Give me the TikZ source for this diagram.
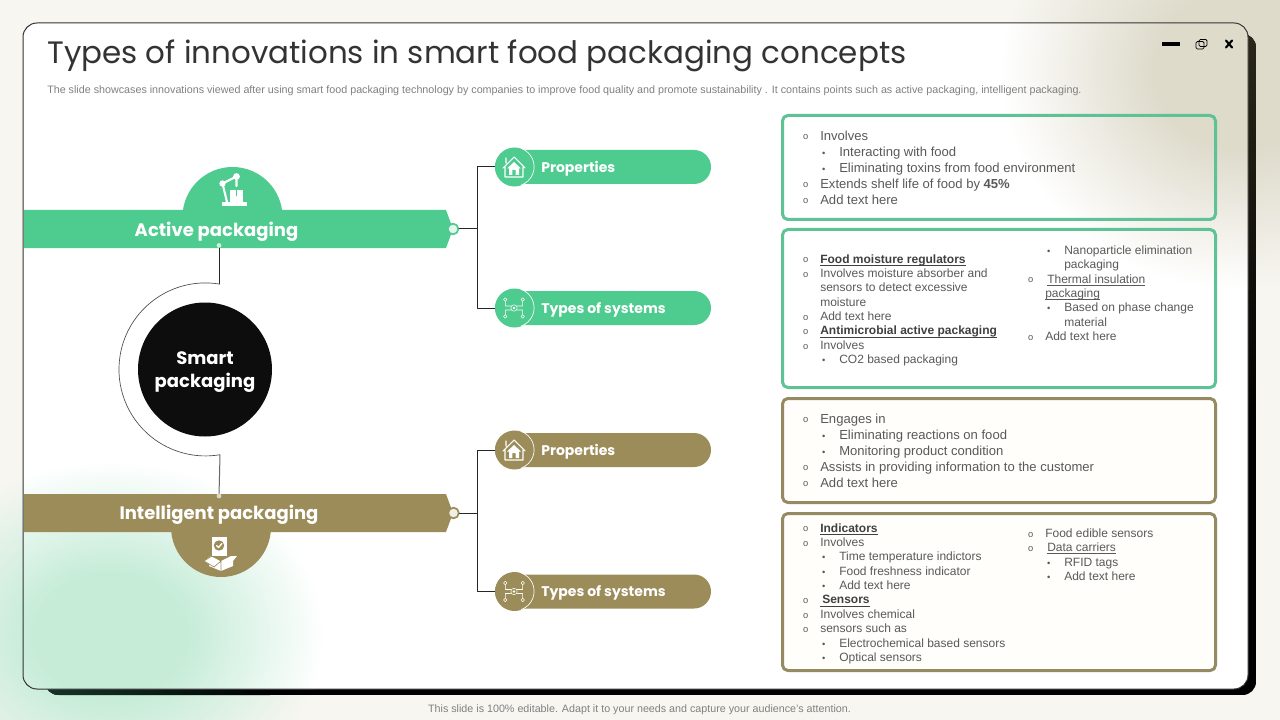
\documentclass[tikz,border=0pt]{standalone}
\usepackage{fontspec}
\setmainfont{Liberation Sans}
\newfontfamily\headfont{Poppins}
\usetikzlibrary{arrows.meta, calc, shapes.misc}
\definecolor{pagebg}{HTML}{F7F6F1}
\definecolor{activegreen}{HTML}{4ECB8F}
\definecolor{boxgreen}{HTML}{5EC296}
\definecolor{smartbrown}{HTML}{9C8C5A}
\definecolor{boxbrown}{HTML}{958A62}
\definecolor{glowgreen}{HTML}{C6ECD8}
\definecolor{glowtan}{HTML}{DEDBCB}
\definecolor{bodygray}{HTML}{595959}
\definecolor{shadowgreen}{HTML}{16352A}
\definecolor{shadowtan}{HTML}{2B281A}
\definecolor{creamfill}{HTML}{FFFEFB}
% flat centre, then fading to the surrounding colour
\pgfdeclareradialshading{greenonpage}{\pgfpointorigin}{color(0bp)=(glowgreen); color(9bp)=(glowgreen); color(25bp)=(pagebg); color(50bp)=(pagebg)}
\pgfdeclareradialshading{greenoncard}{\pgfpointorigin}{color(0bp)=(glowgreen); color(9bp)=(glowgreen); color(25bp)=(white); color(50bp)=(white)}
\pgfdeclareradialshading{tanonpage}{\pgfpointorigin}{color(0bp)=(glowtan); color(9bp)=(glowtan); color(25bp)=(pagebg); color(50bp)=(pagebg)}
\pgfdeclareradialshading{tanoncard}{\pgfpointorigin}{color(0bp)=(glowtan); color(9bp)=(glowtan); color(25bp)=(white); color(50bp)=(white)}
\newcommand{\ringline}[1]{\makebox[14.25pt][l]{\hspace{1.4pt}\raisebox{.2pt}{\fontsize{7}{7}\selectfont o}}#1}
\newcommand{\dotline}[1]{\hspace{14.25pt}\makebox[14.25pt][l]{\hspace{1.4pt}\fontsize{7}{7}\selectfont •}#1}
\newcommand{\ringcont}[1]{\hspace{14.25pt}#1}
\newcommand{\dotcont}[1]{\hspace{28.5pt}#1}
\newcommand{\lowline}[1]{\underline{\smash{#1}}}
\newcommand{\headline}[1]{\textbf{\textcolor{black!75}{\lowline{#1}}}}
% round icon holder: thin white arc on its right side
\newcommand{\iconarc}[1]{\draw[white, line width=.5pt] (#1.70) arc[start angle=-70, end angle=70, radius=19.5];}
\newcommand{\houseicon}[1]{
	\begin{scope}[shift={(#1)}]
		\draw[white, line width=.8pt, line join=round] (-9,0) -- (-9,10) -- (9,10) -- (9,0) (-11,1) -- (0,-10) -- (11,1) (-8,-4) -- (-8,-9);
		\fill[white] (0,-5) -- (7,1.5) -- (5,1.5) -- (5,8) -- (1.6,8) -- (1.6,3) -- (-1.6,3) -- (-1.6,8) -- (-5,8) -- (-5,1.5) -- (-7,1.5) -- cycle;
	\end{scope}
}
\newcommand{\systemicon}[1]{
	\begin{scope}[shift={(#1)}]
		\draw[white, line width=.4pt] (0,0) circle (3.2) (-8.7,-6.8) -- (-8.7,-2) -- (-3.5,-2) (8.7,-6.8) -- (8.7,-2) -- (3.5,-2) (-8.7,6.8) -- (-8.7,2) -- (-3.5,2) (8.7,6.8) -- (8.7,2) -- (3.5,2);
		\fill[white] (0,0) circle (1.4);
		\foreach \sx/\sy in {-8.7/-8.5, 8.7/-8.5, -8.7/8.5, 8.7/8.5}
		\draw[white, line width=.4pt] (\sx,\sy) circle (1.7);
	\end{scope}
}
\tikzset{
	pillgreen/.style={rounded rectangle, fill=activegreen, minimum width=162pt, minimum height=25.5pt, inner sep=0pt},
	pillbrown/.style={pillgreen, fill=smartbrown},
	iconholder/.style={circle, minimum size=29.25pt, inner sep=0pt},
	pilltext/.style={anchor=west, inner sep=0pt, text=white, yshift=-1.2pt, font=\headfont\bfseries\fontsize{10.5}{13}\selectfont},
	bartext/.style={inner sep=0pt, text=white, yshift=-2.2pt, font=\headfont\bfseries\fontsize{13.5}{17}\selectfont},
	infobox/.style={draw, line width=2.25pt, rounded corners=4pt},
	widetext/.style={anchor=north west, inner sep=0pt, align=left, text=bodygray, font=\fontsize{9.8}{12}\selectfont},
	tighttext/.style={anchor=north west, inner sep=0pt, align=left, text=bodygray, font=\fontsize{9}{10.78}\selectfont},
	wire/.style={draw=black!85, line width=.75pt},
	bigdot/.style={circle, inner sep=0pt, minimum size=8pt, line width=1.3pt},
	tinydot/.style={circle, inner sep=0pt, minimum size=3.6pt, fill=#1}
}
\begin{document}
\begin{tikzpicture}[x=.75pt, y=-.75pt, line cap=round, line join=round]
	\useasboundingbox (0,0) rectangle (1280,720);
	
	%========================
	% Page and card
	%========================
	\fill[pagebg] (0,0) rectangle (1280,720);
	\begin{scope}
		\clip (0,0) rectangle (1280,720);
		\path[shading=tanonpage] (1240,70) ellipse (240 and 220);
		\path[shading=greenonpage] (110,635) ellipse (215 and 175);
	\end{scope}
	% shadow of the card
	\begin{scope}
		\clip[rounded corners=10pt] (45,34) rectangle (1256,695);
		\fill[black] (45,34) rectangle (1256,695);
		\shade[left color=shadowgreen, right color=black] (45,680) rectangle (270,695);
		\shade[top color=shadowtan, bottom color=black] (1240,34) rectangle (1256,420);
	\end{scope}
	% card
	\path[fill=white, rounded corners=10.5pt] (23,23) rectangle (1248,689);
	\begin{scope}
		\clip[rounded corners=10.5pt] (23,23) rectangle (1248,689);
		\path[shading=tanoncard] (1240,70) ellipse (240 and 220);
		\path[shading=greenoncard] (110,635) ellipse (215 and 175);
	\end{scope}
	\draw[black!80, line width=.75pt, rounded corners=10.5pt] (23,23) rectangle (1248,689);
	
	% title, subtitle, footer
	\node[anchor=base west, inner sep=0pt, text=black!80, font=\headfont\fontsize{23.2}{28}\selectfont] (title) at (47,64) {Types of innovations in smart food packaging concepts};
	\node[anchor=base west, inner sep=0pt, text=black!50, font=\fontsize{8.05}{9}\selectfont] (subtitle) at (47,94) {The slide showcases innovations viewed after using smart food packaging technology by companies to improve food quality and promote sustainability . It contains points such as active packaging, intelligent packaging.};
	\node[anchor=base, inner sep=0pt, text=black!50, font=\fontsize{8.04}{9}\selectfont] (footer) at (639.5,712) {This slide is 100\% editable. Adapt it to your needs and capture your audience's attention.};
	
	% window buttons
	\fill[black] (1162,42) rectangle (1180,46);
	\draw[black, line width=.6pt, rounded corners=1pt] (1199,39.5) rectangle (1207,46.5);
	\draw[black, line width=.6pt, rounded corners=1pt] (1196,41.5) rectangle (1204,49);
	\draw[black, line width=1.6pt] (1226,40.5) -- (1232,47.5) (1232,40.5) -- (1226,47.5);
	
	%========================
	% Centre and the two bars
	%========================
	\begin{scope}
		\clip (150,150) rectangle (300,215);
		\fill[activegreen] (232.5,217) circle (50);
	\end{scope}
	\begin{scope}
		\clip (150,525) rectangle (300,590);
		\fill[smartbrown] (221,527) circle (50);
	\end{scope}
	\fill[activegreen] (24,210) -- (446,210) -- (453,229) -- (446,248) -- (24,248) -- cycle;
	\fill[smartbrown] (24,494) -- (446,494) -- (453,513) -- (446,532) -- (24,532) -- cycle;
	
	\node[bartext] (activelabel) at (216.5,229) {Active packaging};
	\node[bartext] (intellabel) at (219,512) {Intelligent packaging};
	\node[circle, fill=black!95, minimum size=100.5pt, inner sep=0pt] (smart) at (205,369.5) {};
	\node[inner sep=0pt, align=center, text=white, yshift=-2.2pt, font=\headfont\bfseries\fontsize{13.5}{17.2}\selectfont] (smartlabel) at (205,369.5) {Smart\\packaging};
	
	\node[tinydot=activegreen!25] (activefoot) at (219,245.5) {};
	\node[tinydot=smartbrown!35] (intelhead) at (219,496) {};
	\node[bigdot, draw=activegreen, fill=activegreen!15] (activeend) at (453,229) {};
	\node[bigdot, draw=smartbrown, fill=smartbrown!15] (intelend) at (453.5,513) {};
	
	% thin ring from bar to bar
	\coordinate (ringtop) at (219,284);
	\coordinate (ringbot) at (220,455);
	\draw[wire] (activefoot) -- (ringtop);
	\draw[black!70, line width=.5pt] (ringtop) arc[start angle=-81, end angle=-279.6, radius=86.5];
	\draw[wire, black!60] (ringbot) -- (intelhead);
	
	%========================
	% Pills
	%========================
	\node[pillgreen] (propa) at (603,167) {};
	\node[pillgreen] (typesa) at (603,308) {};
	\node[pillbrown] (propb) at (603,450) {};
	\node[pillbrown] (typesb) at (603,591.5) {};
	
	\node[iconholder, fill=activegreen] (propaicon) at (514.5,167) {};
	\node[iconholder, fill=activegreen] (typesaicon) at (514.5,308) {};
	\node[iconholder, fill=smartbrown] (propbicon) at (514.5,450) {};
	\node[iconholder, fill=smartbrown] (typesbicon) at (514.5,591.5) {};
	\iconarc{propaicon} \iconarc{typesaicon} \iconarc{propbicon} \iconarc{typesbicon}
	\houseicon{514,167} \systemicon{514,308}
	\houseicon{514,450} \systemicon{514,591.5}
	
	\node[pilltext] (propatext) at (541,167) {Properties};
	\node[pilltext] (typesatext) at (541,308) {Types of systems};
	\node[pilltext] (propbtext) at (541,450) {Properties};
	\node[pilltext] (typesbtext) at (541,591.5) {Types of systems};
	
	% forks
	\coordinate (forka) at (477,229);
	\coordinate (forkb) at (477,513);
	\draw[wire] (activeend) -- (forka);
	\draw[wire] (propaicon) -| (forka);
	\draw[wire] (typesaicon) -| (forka);
	\draw[wire] (intelend) -- (forkb);
	\draw[wire] (propbicon) -| (forkb);
	\draw[wire] (typesbicon) -| (forkb);
	
	%========================
	% Bar icons
	%========================
	% robot arm over a box
	\fill[white] (222,202.5) rectangle (247,206);
	\fill[white] (230,190) rectangle (243,202.5);
	\draw[white, line width=1.6pt] (227,202) -- (222.5,183.5) -- (236.5,176.5) -- (236.5,186);
	\fill[white] (222.5,183.5) circle (3.2) (236.5,176.5) circle (3.4);
	\draw[activegreen, line width=.5pt] (236.5,190) -- (236.5,196);
	% open box with a checked sheet
	\fill[white] (212,537) rectangle (227,556);
	\fill[smartbrown] (219,545.5) circle (5.2);
	\draw[white, line width=1pt] (216.5,545.5) -- (218.5,547.5) -- (222,543.5);
	\fill[white] (211,556) -- (221,561) -- (231,556) -- (237,556) -- (233,561) -- (233,566) -- (221,571) -- (209,566) -- (209,564) -- (204,561) -- cycle;
	\draw[smartbrown, line width=.5pt] (204,561) -- (212,556) -- (221,561) -- (214,567) -- cycle (221,561) -- (221,571);
	
	%========================
	% Text boxes
	%========================
	\path[infobox, draw=boxgreen] (782.5,115.5) rectangle (1215.5,219.5);
	\path[infobox, draw=boxgreen] (782.5,229.5) rectangle (1215.5,387.5);
	\path[infobox, draw=boxbrown, fill=creamfill] (782.5,398.5) rectangle (1215.5,502.5);
	\path[infobox, draw=boxbrown, fill=creamfill] (782.5,513.5) rectangle (1215.5,670.5);
	
	\node[widetext] (activeone) at (801,130.5) {
		\ringline{Involves}\\
		\dotline{Interacting with food}\\
		\dotline{Eliminating toxins from food environment}\\
		\ringline{Extends shelf life of food by \textbf{45\%}}\\
		\ringline{Add text here}};
	\node[tighttext] (activetwo) at (801,257.5) {
		\ringline{\headline{Food moisture regulators}}\\
		\ringline{Involves moisture absorber and}\\
		\ringcont{sensors to detect excessive}\\
		\ringcont{moisture}\\
		\ringline{Add text here}\\
		\ringline{\headline{Antimicrobial active packaging}}\\
		\ringline{Involves}\\
		\dotline{CO2 based packaging}};
	\node[tighttext] (activethree) at (1026,245.5) {
		\dotline{Nanoparticle elimination}\\
		\dotcont{packaging}\\
		\ringline{\,\lowline{Thermal insulation}}\\
		\ringcont{\lowline{packaging}}\\
		\dotline{Based on phase change}\\
		\dotcont{material}\\
		\ringline{Add text here}};
	\node[widetext] (intelone) at (801,413.5) {
		\ringline{Engages in}\\
		\dotline{Eliminating reactions on food}\\
		\dotline{Monitoring product condition}\\
		\ringline{Assists in providing information to the customer}\\
		\ringline{Add text here}};
	\node[tighttext] (inteltwo) at (801,526.5) {
		\ringline{\headline{Indicators}}\\
		\ringline{Involves}\\
		\dotline{Time temperature indictors}\\
		\dotline{Food freshness indicator}\\
		\dotline{Add text here}\\
		\ringline{\headline{\,Sensors}}\\
		\ringline{Involves chemical}\\
		\ringline{sensors such as}\\
		\dotline{Electrochemical based sensors}\\
		\dotline{Optical sensors}};
	\node[tighttext] (intelthree) at (1026,528.5) {
		\ringline{Food edible sensors}\\
		\ringline{\,\lowline{Data carriers}}\\
		\dotline{RFID tags}\\
		\dotline{Add text here}};
\end{tikzpicture}
\end{document}
